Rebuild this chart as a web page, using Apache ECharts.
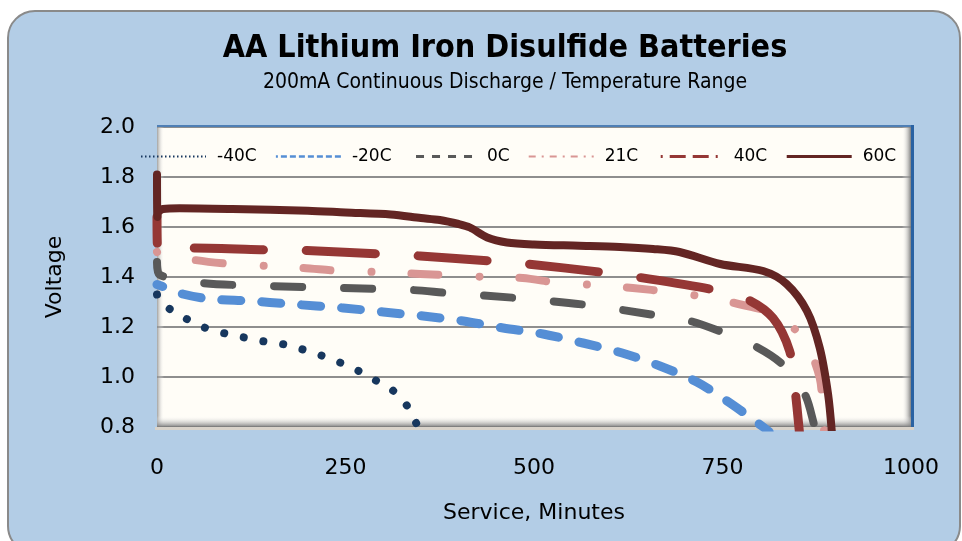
<!DOCTYPE html>
<html><head><meta charset="utf-8">
<script src="https://cdn.jsdelivr.net/npm/echarts@6/dist/echarts.min.js"></script>
<style>
html,body{margin:0;padding:0;background:#fff;}
#wrap{position:relative;width:962px;height:541px;overflow:hidden;}
#bg{position:absolute;left:7px;top:10px;width:950px;height:540px;border:2px solid #8a8a8a;border-radius:28px;background:#b3cde6;}
#chart{position:absolute;left:0;top:0;width:962px;height:541px;}
</style></head>
<body><div id="wrap"><div id="bg"></div><div id="chart"></div></div>
<script>
// ---- data ----
const seriesNames = ['-40C', '-20C', '0C', '21C', '40C', '60C'];
const xTicks = [0, 250, 500, 750, 1000];
const yTicks = [0.8, 1.0, 1.2, 1.4, 1.6, 1.8, 2.0];

const minM40 = [0, 2, 15, 37, 61, 88, 113, 139, 166, 191, 216, 241, 265, 289, 312, 330, 343, 350];
const voltM40 = [1.33, 1.31, 1.276, 1.236, 1.20, 1.176, 1.16, 1.144, 1.132, 1.112, 1.088, 1.06, 1.028, 0.988, 0.948, 0.892, 0.82, 0.78];

const minM20 = [0, 17, 34, 70, 123, 176, 247, 300, 353, 406, 459, 512, 565, 617, 667, 716, 760, 804, 812];
const voltM20 = [1.37, 1.352, 1.332, 1.312, 1.304, 1.292, 1.276, 1.26, 1.244, 1.224, 1.196, 1.172, 1.136, 1.096, 1.044, 0.98, 0.896, 0.80, 0.78];

const min0 = [0, 3, 60, 150, 243, 338, 385, 477, 570, 660, 707, 749, 793, 829, 859, 872, 874];
const volt0 = [1.46, 1.41, 1.376, 1.364, 1.356, 1.348, 1.336, 1.316, 1.288, 1.248, 1.224, 1.18, 1.124, 1.052, 0.932, 0.804, 0.78];

const min21 = [0, 1, 50, 97, 146, 194, 243, 292, 349, 438, 485, 534, 583, 631, 680, 728, 777, 822, 858, 879, 883, 885];
const volt21 = [1.50, 1.496, 1.468, 1.452, 1.444, 1.436, 1.424, 1.42, 1.412, 1.40, 1.396, 1.376, 1.368, 1.356, 1.34, 1.32, 1.288, 1.248, 1.148, 0.996, 0.828, 0.78];

const min40 = [0, 1, 50, 154, 199, 298, 349, 444, 491, 587, 636, 733, 782, 817, 839, 846, 852];
const volt40 = [1.64, 1.51, 1.516, 1.508, 1.506, 1.492, 1.484, 1.464, 1.452, 1.42, 1.40, 1.352, 1.312, 1.236, 1.104, 0.956, 0.78];

const min60 = [0, 0.5, 2, 8, 30, 100, 200, 250, 310, 350, 375, 400, 415, 438, 464, 500, 560, 614, 658, 693, 747, 804, 835, 862, 879, 890, 895];
const volt60 = [1.81, 1.64, 1.66, 1.672, 1.675, 1.672, 1.665, 1.658, 1.65, 1.636, 1.628, 1.612, 1.598, 1.558, 1.538, 1.53, 1.525, 1.52, 1.512, 1.50, 1.452, 1.424, 1.372, 1.264, 1.116, 0.932, 0.78];

// ---- styles ----
const zip = (xs, ys) => xs.map((x, i) => [x, ys[i]]);
const seriesData = [zip(minM40, voltM40), zip(minM20, voltM20), zip(min0, volt0), zip(min21, volt21), zip(min40, volt40), zip(min60, volt60)];
const colors = ['#17375e', '#558ed5', '#595959', '#d99694', '#953735', '#632523'];
const widths = [8, 9, 8, 8, 9, 8];
const dashes = [[0.01, 20], [19, 21], [28, 42], [0.01, 40, 27, 41], [69, 43], 'solid'];
const offsets = [0, 13, 11, 0, 43, 0];
const legendDash = [[1.5, 2.5], [6, 3], [8, 8], [7, 6, 2, 6], [16, 7, 16, 7, 2, 7], 'solid'];
const legendWidth = [2, 2.5, 3, 2, 3, 3];

const chart = echarts.init(document.getElementById('chart'), null, {renderer: 'canvas'});
const FONT = 'DejaVu Sans';
const COND = '"DejaVu Sans Condensed", "DejaVu Sans"';

const option = {
  backgroundColor: 'transparent',
  animation: false,
  title: {
    text: 'AA Lithium Iron Disulfide Batteries',
    subtext: '200mA Continuous Discharge / Temperature Range',
    left: 505, top: 33, padding: 0, textAlign: 'center', itemGap: 7,
    textStyle: {fontFamily: COND, fontWeight: 'bold', fontSize: 32, color: '#000'},
    subtextStyle: {fontFamily: COND, fontSize: 21, color: '#000'}
  },
  legend: {
    left: 135, top: 143, itemWidth: 65, itemHeight: 14, itemGap: 18,
    itemStyle: {opacity: 0},
    textStyle: {fontFamily: FONT, fontSize: 17, color: '#000', padding: [0, 0, 0, 6]},
    data: seriesNames.map((n, i) => ({name: n, itemStyle: {opacity: 0}, lineStyle: {type: legendDash[i], width: legendWidth[i], cap: 'butt'}}))
  },
  grid: {
    left: 157, right: 51, top: 127, bottom: 114, show: true,
    backgroundColor: '#fffdf7', borderWidth: 0
  },
  xAxis: {
    type: 'value', min: xTicks[0], max: xTicks[xTicks.length - 1], interval: 250,
    name: 'Service, Minutes', nameLocation: 'middle', nameGap: 75,
    nameTextStyle: {fontFamily: FONT, fontSize: 22, color: '#000'},
    axisLine: {show: false}, axisTick: {show: false}, splitLine: {show: false},
    axisLabel: {fontFamily: FONT, fontSize: 22, color: '#000', margin: 30, formatter: v => String(v)}
  },
  yAxis: {
    type: 'value', min: yTicks[0], max: yTicks[yTicks.length - 1], interval: 0.2,
    name: 'Voltage', nameLocation: 'middle', nameGap: 91,
    nameTextStyle: {fontFamily: FONT, fontSize: 22, color: '#000'},
    axisLine: {show: false}, axisTick: {show: false},
    splitLine: {show: true, lineStyle: {color: '#8e8e8e', width: 2}},
    axisLabel: {fontFamily: FONT, fontSize: 22, color: '#000', margin: 22, formatter: v => v.toFixed(1)}
  },
  graphic: [
    {type: 'rect', z: 1, silent: true, shape: {x: 157, y: 125, width: 756, height: 2}, style: {fill: '#4f7fb5'}},
    {type: 'rect', z: 1, silent: true, shape: {x: 157, y: 127, width: 7, height: 300},
      style: {fill: new echarts.graphic.LinearGradient(0, 0, 1, 0, [{offset: 0, color: 'rgba(140,140,140,0.8)'}, {offset: 1, color: 'rgba(255,255,255,0)'}])}},
    {type: 'rect', z: 1, silent: true, shape: {x: 902, y: 127, width: 9, height: 300},
      style: {fill: new echarts.graphic.LinearGradient(0, 0, 1, 0, [{offset: 0, color: 'rgba(255,255,255,0)'}, {offset: 1, color: 'rgba(120,120,120,0.95)'}])}},
    {type: 'rect', z: 1, silent: true, shape: {x: 911, y: 125, width: 3, height: 304}, style: {fill: '#2a62a2'}},
    {type: 'rect', z: 1, silent: true, shape: {x: 157, y: 416, width: 754, height: 11},
      style: {fill: new echarts.graphic.LinearGradient(0, 0, 0, 1, [{offset: 0, color: 'rgba(255,255,255,0)'}, {offset: 1, color: 'rgba(120,120,120,0.95)'}])}},
    {type: 'rect', z: 1, silent: true, shape: {x: 155, y: 427, width: 759, height: 3}, style: {fill: '#d9d3ca'}}
  ],
  series: seriesNames.map((n, i) => ({
    name: n, type: 'line', symbol: 'none', smooth: 0.3, clip: true, z: 2 + i * 0.01,
    data: seriesData[i],
    lineStyle: {color: colors[i], width: widths[i], type: dashes[i], dashOffset: offsets[i], cap: 'round', join: 'round'},
    itemStyle: {color: colors[i]}
  }))
};
chart.setOption(option);
</script>
</body></html>
